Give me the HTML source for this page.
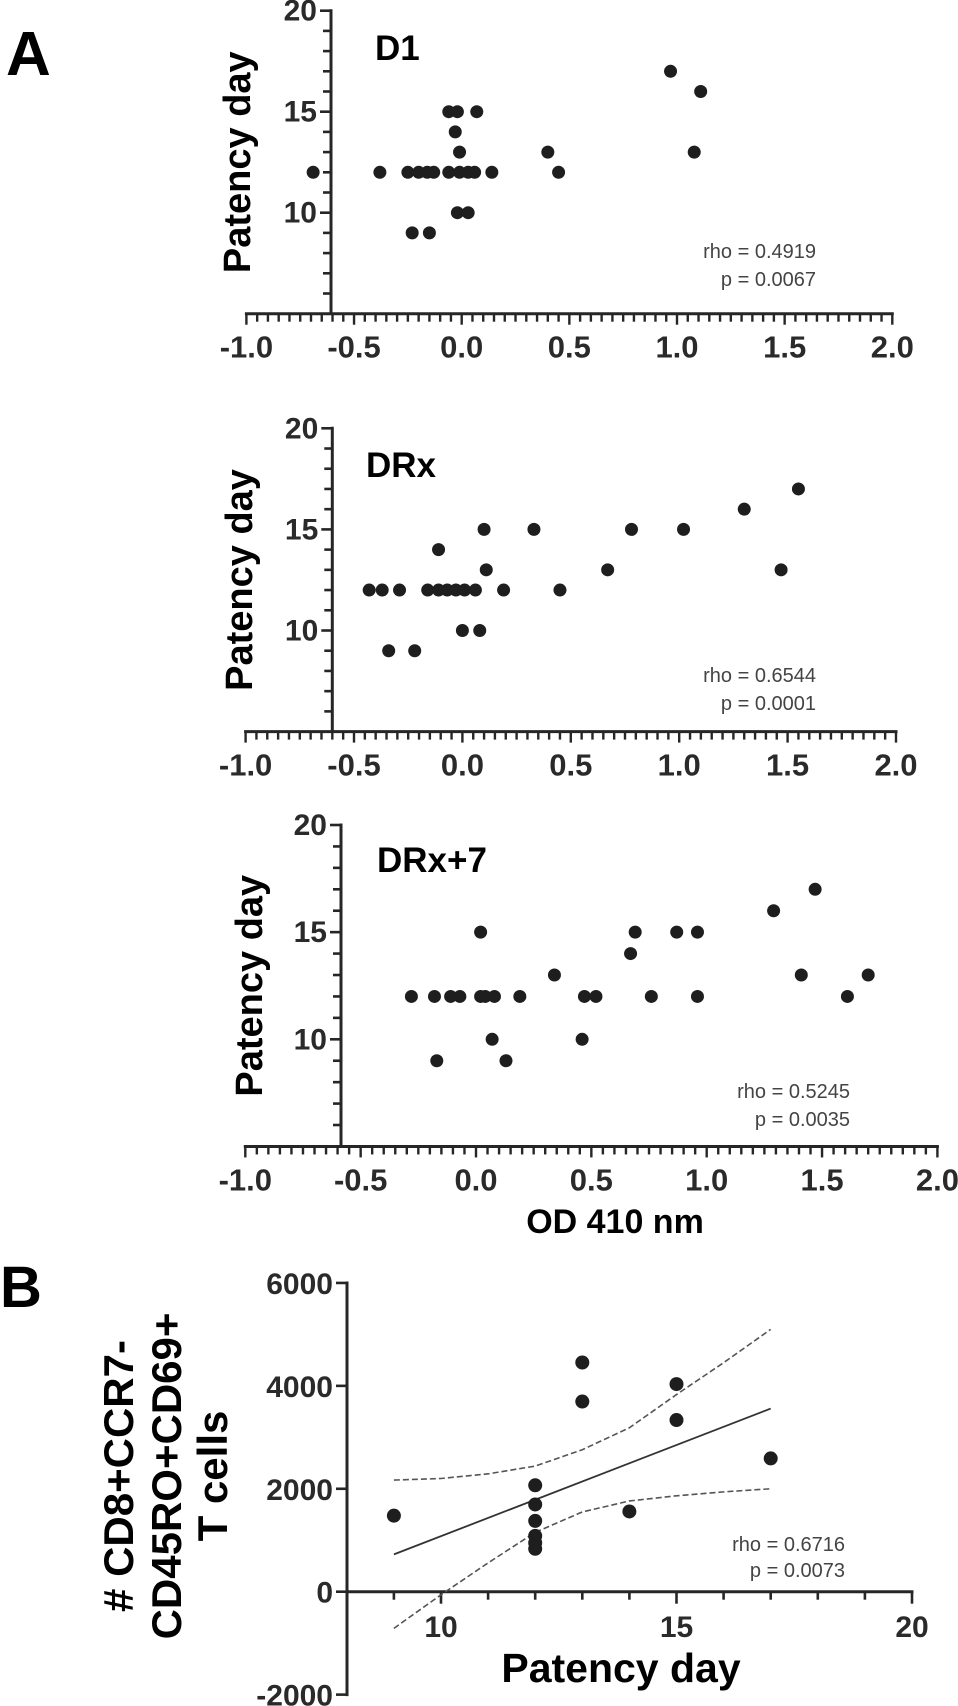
<!DOCTYPE html>
<html><head><meta charset="utf-8"><style>
html,body{margin:0;padding:0;background:#fff;}
svg{display:block;font-family:"Liberation Sans",Arial,sans-serif;}
</style></head><body>
<svg id="fig" width="958" height="1706" viewBox="0 0 958 1706" xmlns="http://www.w3.org/2000/svg">
<text x="6" y="75" font-size="62" font-weight="bold" fill="#000">A</text>
<text x="0" y="1307" font-size="58" font-weight="bold" fill="#000">B</text>
</svg>
<script>
// ---- Panel A data ----
const xTicksA = [-1.0, -0.5, 0.0, 0.5, 1.0, 1.5, 2.0];
const xTickLabelsA = ["-1.0", "-0.5", "0.0", "0.5", "1.0", "1.5", "2.0"];
const yTicksA = [10, 15, 20];
const yTickLabelsA = ["10", "15", "20"];
const d1X = [-0.69,-0.38,-0.25,-0.20,-0.16,-0.13,-0.06,-0.01,0.03,0.06,0.14,0.45,-0.06,-0.02,0.07,-0.03,-0.01,0.40,1.08,0.97,1.11,-0.02,0.03,-0.23,-0.15];
const d1Y = [12,12,12,12,12,12,12,12,12,12,12,12,15,15,15,14,13,13,13,17,16,10,10,9,9];
const drxX = [-0.43,-0.37,-0.29,-0.16,-0.11,-0.07,-0.03,0.01,0.06,0.19,0.45,-0.34,-0.22,0.0,0.08,-0.11,0.10,0.33,0.78,1.02,0.11,0.67,1.47,1.30,1.55];
const drxY = [12,12,12,12,12,12,12,12,12,12,12,9,9,10,10,14,15,15,15,15,13,13,13,16,17];
const drx7X = [-0.28,-0.18,-0.11,-0.07,0.02,0.04,0.08,0.19,0.47,0.52,0.76,0.96,1.61,0.02,0.69,0.87,0.96,0.67,0.34,1.41,1.70,1.29,1.47,0.07,0.46,-0.17,0.13];
const drx7Y = [12,12,12,12,12,12,12,12,12,12,12,12,12,15,15,15,15,14,13,13,13,16,17,10,10,9,9];
const rhoD1 = ["rho = 0.4919", "p = 0.0067"];
const rhoDRx = ["rho = 0.6544", "p = 0.0001"];
const rhoDRx7 = ["rho = 0.5245", "p = 0.0035"];
// ---- Panel B data ----
const bDays = [9,12,12,12,12,12,12,13,13,14,15,15,17];
const bCells = [1478,2068,1695,1376,1085,949,834,4454,3695,1559,4034,3336,2590];
const bYTicks = [-2000, 0, 2000, 4000, 6000];
const bYTickLabels = ["-2000", "0", "2000", "4000", "6000"];
const bXTicks = [10, 15, 20];
const bXTickLabels = ["10", "15", "20"];
const fitDays = [9, 17];
const fitVals = [725, 3559];
const ciDays = [9, 10, 11, 12, 13, 14, 15, 16, 17];
const ciUpper = [2169, 2200, 2290, 2441, 2759, 3186, 3831, 4450, 5098];
const ciLower = [-712, -60, 560, 1153, 1550, 1763, 1864, 1940, 2000];
const rhoB = ["rho = 0.6716", "p = 0.0073"];

const NS = "http://www.w3.org/2000/svg";
const svg = document.getElementById("fig");
function mk(tag, attrs, parent) {
  const e = document.createElementNS(NS, tag);
  for (const k in attrs) e.setAttribute(k, attrs[k]);
  (parent || svg).appendChild(e);
  return e;
}
const AX = "#262626";

function panelA(cfg, xs, ys, rho, name) {
  const g = mk("g", {});
  
  
  const sx = v => cfg.x0 + v * cfg.ux;
  const sy = v => cfg.yTop + (20 - v) * cfg.uy;
  const axisY = sy(5);
  // y axis
  const yl = mk("line", {x1: cfg.yAxisX, y1: sy(20) - 1.5, x2: cfg.yAxisX, y2: axisY, stroke: AX, "stroke-width": 3}, g);
  
  
  for (let v = 6; v <= 20; v++) {
    const major = v % 5 === 0;
    mk("line", {x1: cfg.yAxisX - (major ? 11 : 8), y1: sy(v), x2: cfg.yAxisX, y2: sy(v), stroke: AX, "stroke-width": 2.6}, g);
  }
  yTicksA.forEach((v, i) => {
    const t = mk("text", {x: cfg.yAxisX - 14, y: sy(v) + 10, "font-size": 30, "font-weight": "bold", fill: "#2a2a2a", "text-anchor": "end"}, g);
    t.textContent = yTickLabelsA[i];
    
    
  });
  // x axis
  const xl = mk("line", {x1: sx(-1) - 1.5, y1: axisY, x2: sx(2) + 1.5, y2: axisY, stroke: AX, "stroke-width": 3}, g);
  
  
  for (let k = 0; k <= 60; k++) {
    const v = -1 + k * 0.05;
    const major = k % 10 === 0;
    mk("line", {x1: sx(v), y1: axisY, x2: sx(v), y2: axisY + (major ? 11 : 8), stroke: AX, "stroke-width": 2.4}, g);
  }
  xTicksA.forEach((v, i) => {
    const t = mk("text", {x: sx(v), y: axisY + 44, "font-size": 31, "font-weight": "bold", fill: "#2a2a2a", "text-anchor": "middle"}, g);
    t.textContent = xTickLabelsA[i];
    
    
  });
  // y title
  const yt = mk("text", {x: 0, y: 0, "font-size": 38, "font-weight": "bold", fill: "#000", "text-anchor": "middle", transform: `translate(${cfg.titleX},${(sy(20) + axisY) / 2}) rotate(-90)`}, g);
  yt.textContent = "Patency day";
  
  
  // panel name
  const pn = mk("text", {x: cfg.labelX, y: cfg.labelY, "font-size": 35, "font-weight": "bold", fill: "#000"}, g);
  pn.textContent = cfg.label;
  
  
  // points
  xs.forEach((x, i) => {
    const c = mk("circle", {cx: sx(x), cy: sy(ys[i]), r: 6.5, fill: "#1e1e1e"}, g);
    
    
  });
  // stats
  rho.forEach((s, i) => {
    const t = mk("text", {x: cfg.rhoX, y: cfg.rhoY + i * 28, "font-size": 20, fill: "#444", "text-anchor": "end", "transform": ""}, g);
    t.textContent = s;
    
    
  });
}

panelA({x0: 461.7, ux: 215.3, yTop: 10.7, uy: 20.2, yAxisX: 331, titleX: 250, label: "D1", labelX: 375, labelY: 60, rhoX: 816, rhoY: 258}, d1X, d1Y, rhoD1, "d1");
panelA({x0: 462.4, ux: 216.8, yTop: 428.3, uy: 20.22, yAxisX: 332.3, titleX: 252, label: "DRx", labelX: 366, labelY: 477, rhoX: 816, rhoY: 682}, drxX, drxY, rhoDRx, "drx");
panelA({x0: 476, ux: 230.7, yTop: 825, uy: 21.43, yAxisX: 341, titleX: 262, label: "DRx+7", labelX: 377, labelY: 872, rhoX: 850, rhoY: 1098}, drx7X, drx7Y, rhoDRx7, "drx7");

const od = mk("text", {x: 615, y: 1233, "font-size": 34, "font-weight": "bold", fill: "#000", "text-anchor": "middle"});
od.textContent = "OD 410 nm";



// ---- Panel B ----
(function () {
  const g = mk("g", {});
  
  
  const x0 = 441, ud = 47.1, y0 = 1591.7, uv = 0.05146;
  const sx = d => x0 + (d - 10) * ud;
  const sy = v => y0 - v * uv;
  const axX = 347;
  const yl = mk("line", {x1: axX, y1: sy(6000) - 1.5, x2: axX, y2: sy(-2000) + 1.5, stroke: AX, "stroke-width": 3}, g);
  
  
  bYTicks.forEach((v, i) => {
    mk("line", {x1: axX - 11, y1: sy(v), x2: axX, y2: sy(v), stroke: AX, "stroke-width": 2.6}, g);
    const t = mk("text", {x: axX - 14, y: sy(v) + 11, "font-size": 30, "font-weight": "bold", fill: "#2a2a2a", "text-anchor": "end"}, g);
    t.textContent = bYTickLabels[i];
    
    
  });
  const xl = mk("line", {x1: axX, y1: y0, x2: sx(20) + 1.5, y2: y0, stroke: AX, "stroke-width": 3}, g);
  
  
  for (let d = 9; d <= 20; d++) {
    const major = d % 5 === 0;
    mk("line", {x1: sx(d), y1: y0, x2: sx(d), y2: y0 + (major ? 12 : 8), stroke: AX, "stroke-width": 2.6}, g);
  }
  bXTicks.forEach((v, i) => {
    const t = mk("text", {x: sx(v), y: 1637, "font-size": 30, "font-weight": "bold", fill: "#2a2a2a", "text-anchor": "middle"}, g);
    t.textContent = bXTickLabels[i];
    
    
  });
  const xt = mk("text", {x: 621, y: 1682, "font-size": 41, "font-weight": "bold", fill: "#000", "text-anchor": "middle"}, g);
  xt.textContent = "Patency day";
  
  
  const lines = ["# CD8+CCR7-", "CD45RO+CD69+", "T cells"];
  const lx = [133, 181, 227];
  lines.forEach((s, i) => {
    const t = mk("text", {x: 0, y: 0, "font-size": 42, "font-weight": "bold", fill: "#000", "text-anchor": "middle", transform: `translate(${lx[i]},1476) rotate(-90)`}, g);
    t.textContent = s;
    
    
  });
  // CI bands
  const up = ciDays.map((d, i) => `${sx(d)},${sy(ciUpper[i])}`).join(" ");
  const lo = ciDays.map((d, i) => `${sx(d)},${sy(ciLower[i])}`).join(" ");
  const cu = mk("polyline", {points: up, fill: "none", stroke: "#555", "stroke-width": 1.6, "stroke-dasharray": "6,3"}, g);
  
  
  const cl = mk("polyline", {points: lo, fill: "none", stroke: "#555", "stroke-width": 1.6, "stroke-dasharray": "6,3"}, g);
  
  
  const fl = mk("line", {x1: sx(fitDays[0]), y1: sy(fitVals[0]), x2: sx(fitDays[1]), y2: sy(fitVals[1]), stroke: "#333", "stroke-width": 1.8}, g);
  
  
  bDays.forEach((d, i) => {
    const c = mk("circle", {cx: sx(d), cy: sy(bCells[i]), r: 7, fill: "#1e1e1e"}, g);
    
    
  });
  rhoB.forEach((s, i) => {
    const t = mk("text", {x: 845, y: 1551 + i * 26, "font-size": 20, fill: "#444", "text-anchor": "end"}, g);
    t.textContent = s;
    
    
  });
})();
</script>
</body></html>
